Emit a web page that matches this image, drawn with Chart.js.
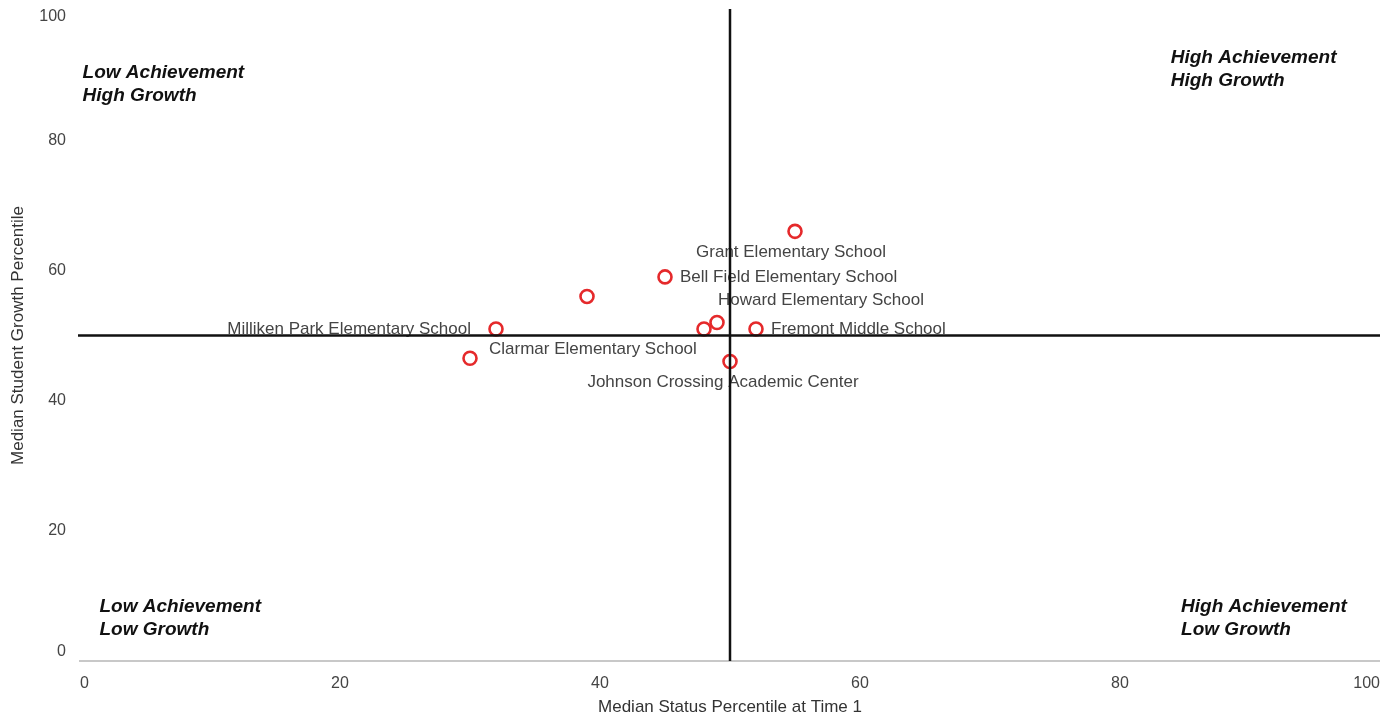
<!DOCTYPE html>
<html>
<head>
<meta charset="utf-8">
<script src="https://cdn.jsdelivr.net/npm/chart.js@4"></script>
<style>
  html, body { margin: 0; padding: 0; background: #fff; }
  #wrap { width: 1380px; height: 718px; }
</style>
</head>
<body>
<div id="wrap"><canvas id="c" width="1380" height="718"></canvas></div>
<script>
// ---- data ----
const schoolNames = [
  "Grant Elementary School",
  "Bell Field Elementary School",
  "",
  "Howard Elementary School",
  "",
  "Fremont Middle School",
  "Milliken Park Elementary School",
  "Clarmar Elementary School",
  "Johnson Crossing Academic Center"
];
const statusPercentile = [55, 45, 39, 49, 48, 52, 32, 30, 50];
const growthPercentile = [66, 59, 56, 52, 51, 51, 51, 46.5, 46];
const xTickValues = [0, 20, 40, 60, 80, 100];
const yTickValues = [0, 20, 40, 60, 80, 100];
const xAxisTitle = "Median Status Percentile at Time 1";
const yAxisTitle = "Median Student Growth Percentile";
const quadrantCut = 50;
const quadrantTexts = [
  ["Low Achievement", "High Growth"],
  ["High Achievement", "High Growth"],
  ["Low Achievement", "Low Growth"],
  ["High Achievement", "Low Growth"]
];
// anchor of each quadrant caption in axis units (first line)
const quadrantTextX = [0.2, 83.9, 1.5, 84.7];
const quadrantTextY = [90.4, 92.6, 8.3, 8.3];

// ---- label styling (pixel offsets relative to each point) ----
const labelStyle = [
  { dx: -4, dy: 21, align: "center" },
  { dx: 15, dy: 0, align: "left" },
  null,
  { dx: 1, dy: -22, align: "left" },
  null,
  { dx: 15, dy: 0, align: "left" },
  { dx: -25, dy: 0, align: "right" },
  { dx: 19, dy: -9, align: "left" },
  { dx: -7, dy: 21, align: "center" }
];

const points = statusPercentile.map((x, i) => ({ x: x, y: growthPercentile[i] }));
const FONT = "'Liberation Sans', Arial, sans-serif";

// keep the end labels of the y axis inside the plot, as in the reference
const yEndLabelPlugin = {
  id: "yEndLabels",
  beforeDraw(chart) {
    const ys = chart.scales.y;
    try {
      const items = ys.getLabelItems(chart.chartArea);
      items.forEach((it) => {
        const tr = it.options && it.options.translation;
        if (!tr) return;
        if (it.label === String(yTickValues[0])) tr[1] -= 9;
        if (it.label === String(yTickValues[yTickValues.length - 1])) tr[1] += 7;
      });
    } catch (e) {}
  }
};

const overlayPlugin = {
  id: "overlay",
  afterDatasetsDraw(chart) {
    const ctx = chart.ctx;
    const xs = chart.scales.x, ys = chart.scales.y;
    const area = chart.chartArea;
    ctx.save();
    // point labels
    ctx.font = "17px " + FONT;
    ctx.fillStyle = "#444";
    ctx.textBaseline = "middle";
    points.forEach((p, i) => {
      const st = labelStyle[i];
      if (!st || !schoolNames[i]) return;
      ctx.textAlign = st.align;
      ctx.fillText(schoolNames[i], xs.getPixelForValue(p.x) + st.dx, ys.getPixelForValue(p.y) + st.dy);
    });
    // quadrant captions
    ctx.font = "italic bold 19px " + FONT;
    ctx.fillStyle = "#111";
    ctx.textAlign = "left";
    quadrantTexts.forEach((lines, i) => {
      const px = xs.getPixelForValue(quadrantTextX[i]);
      const py = ys.getPixelForValue(quadrantTextY[i]);
      lines.forEach((t, k) => ctx.fillText(t, px, py + k * 23));
    });
    // quadrant lines
    ctx.strokeStyle = "#111";
    ctx.lineWidth = 2.5;
    const cx = xs.getPixelForValue(quadrantCut);
    const cy = ys.getPixelForValue(quadrantCut);
    ctx.beginPath();
    ctx.moveTo(cx, area.top - 1);
    ctx.lineTo(cx, area.bottom);
    ctx.moveTo(area.left - 2, cy);
    ctx.lineTo(area.right, cy);
    ctx.stroke();
    ctx.restore();
  }
};

new Chart(document.getElementById("c"), {
  type: "scatter",
  data: {
    datasets: [{
      data: points,
      pointRadius: 6.5,
      pointHoverRadius: 6.5,
      pointBorderWidth: 2.6,
      pointBorderColor: "#e5292b",
      pointBackgroundColor: "rgba(255,255,255,0)",
      clip: false
    }]
  },
  options: {
    responsive: false,
    animation: false,
    layout: { autoPadding: false, padding: { top: 10, right: 0, left: 0, bottom: 0 } },
    plugins: { legend: { display: false }, tooltip: { enabled: false } },
    scales: {
      x: {
        type: "linear",
        min: 0, max: 100,
        afterBuildTicks: (s) => { s.ticks = xTickValues.map(v => ({ value: v })); },
        afterFit: (s) => { s.height = 57; s.paddingLeft = 0; s.paddingRight = 0; },
        grid: { display: false, drawTicks: false },
        border: { display: true, color: "#c8c8c8", width: 2 },
        ticks: { align: "inner", padding: 13, color: "#444", font: { family: FONT, size: 16 } },
        title: { display: true, text: xAxisTitle, color: "#333", padding: { top: 4, bottom: 0 }, font: { family: FONT, size: 17 } }
      },
      y: {
        type: "linear",
        min: 0, max: 100,
        afterBuildTicks: (s) => { s.ticks = yTickValues.map(v => ({ value: v })); },
        afterFit: (s) => { s.width = 80; s.paddingTop = 0; s.paddingBottom = 0; },
        grid: { display: false, drawTicks: false },
        border: { display: false },
        ticks: { padding: 14, color: "#444", font: { family: FONT, size: 16 } },
        title: { display: true, text: yAxisTitle, color: "#333", padding: { top: 8, bottom: 0 }, font: { family: FONT, size: 17 } }
      }
    }
  },
  plugins: [yEndLabelPlugin, overlayPlugin]
});
</script>
</body>
</html>
